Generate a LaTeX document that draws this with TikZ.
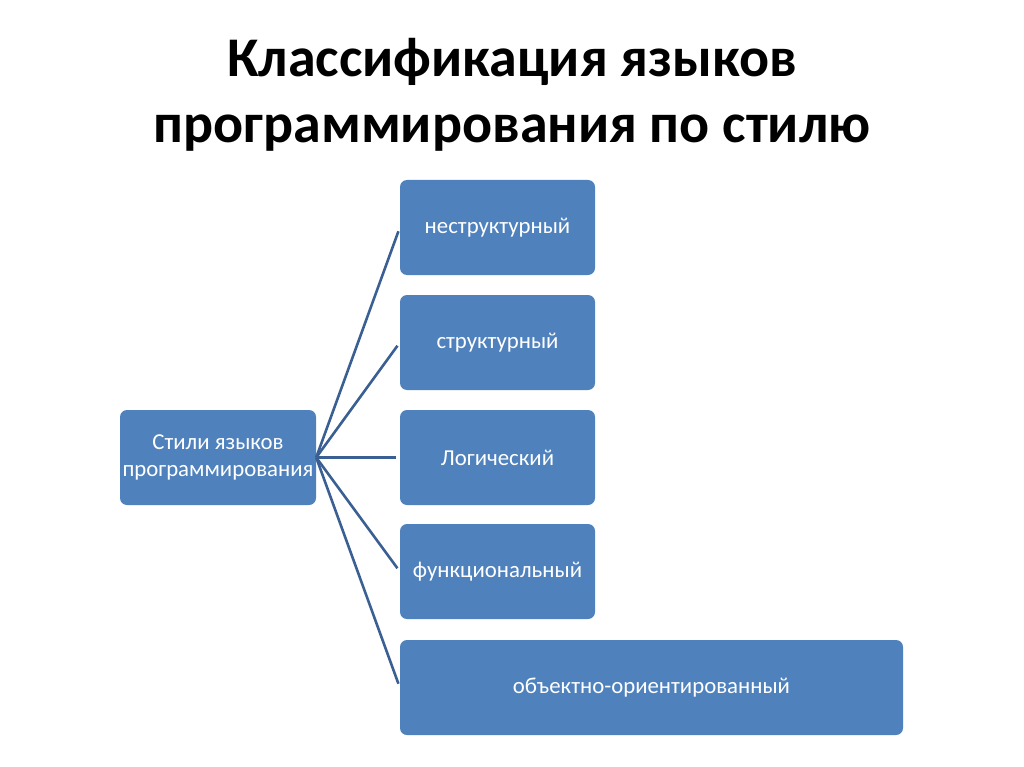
\documentclass[tikz,border=0pt]{standalone}
\usepackage{fontspec}
\setmainfont{Carlito}
\definecolor{boxblue}{HTML}{4F81BD}
\definecolor{lineblue}{HTML}{3A5F92}
\begin{document}
\begin{tikzpicture}[x=1pt,y=-1pt,
  box/.style={draw=none,fill=boxblue,rounded corners=7pt,text=white,font=\fontsize{22.8}{27}\selectfont,align=center,inner sep=0pt},
  ttl/.style={font=\bfseries\fontsize{56}{66}\selectfont,anchor=base,inner sep=0pt},
  conn/.style={draw=lineblue,line width=2.6pt}]
\useasboundingbox (0,0) rectangle (1024,767);
\node[ttl] (title1) at (512,77) {Классификация языков};
\node[ttl] (title2) at (512,143) {программирования по стилю};
\node[box,minimum width=196pt,minimum height=95pt] (root) at (218,457.5) {Стили языков\\программирования};
\node[box,minimum width=195pt,minimum height=95pt] (c1) at (497.5,227.5) {неструктурный};
\node[box,minimum width=195pt,minimum height=95pt] (c2) at (497.5,342.5) {структурный};
\node[box,minimum width=195pt,minimum height=95pt] (c3) at (497.5,457.5) {Логический};
\node[box,minimum width=195pt,minimum height=95pt] (c4) at (497.5,571.5) {функциональный};
\node[box,minimum width=503pt,minimum height=95pt] (c5) at (651.5,687.5) {объектно-ориентированный};
\foreach \c in {c1,c2,c3,c4,c5}{
  \draw[conn,shorten >=4pt] (root.east) -- (\c.west);
}
\end{tikzpicture}
\end{document}
